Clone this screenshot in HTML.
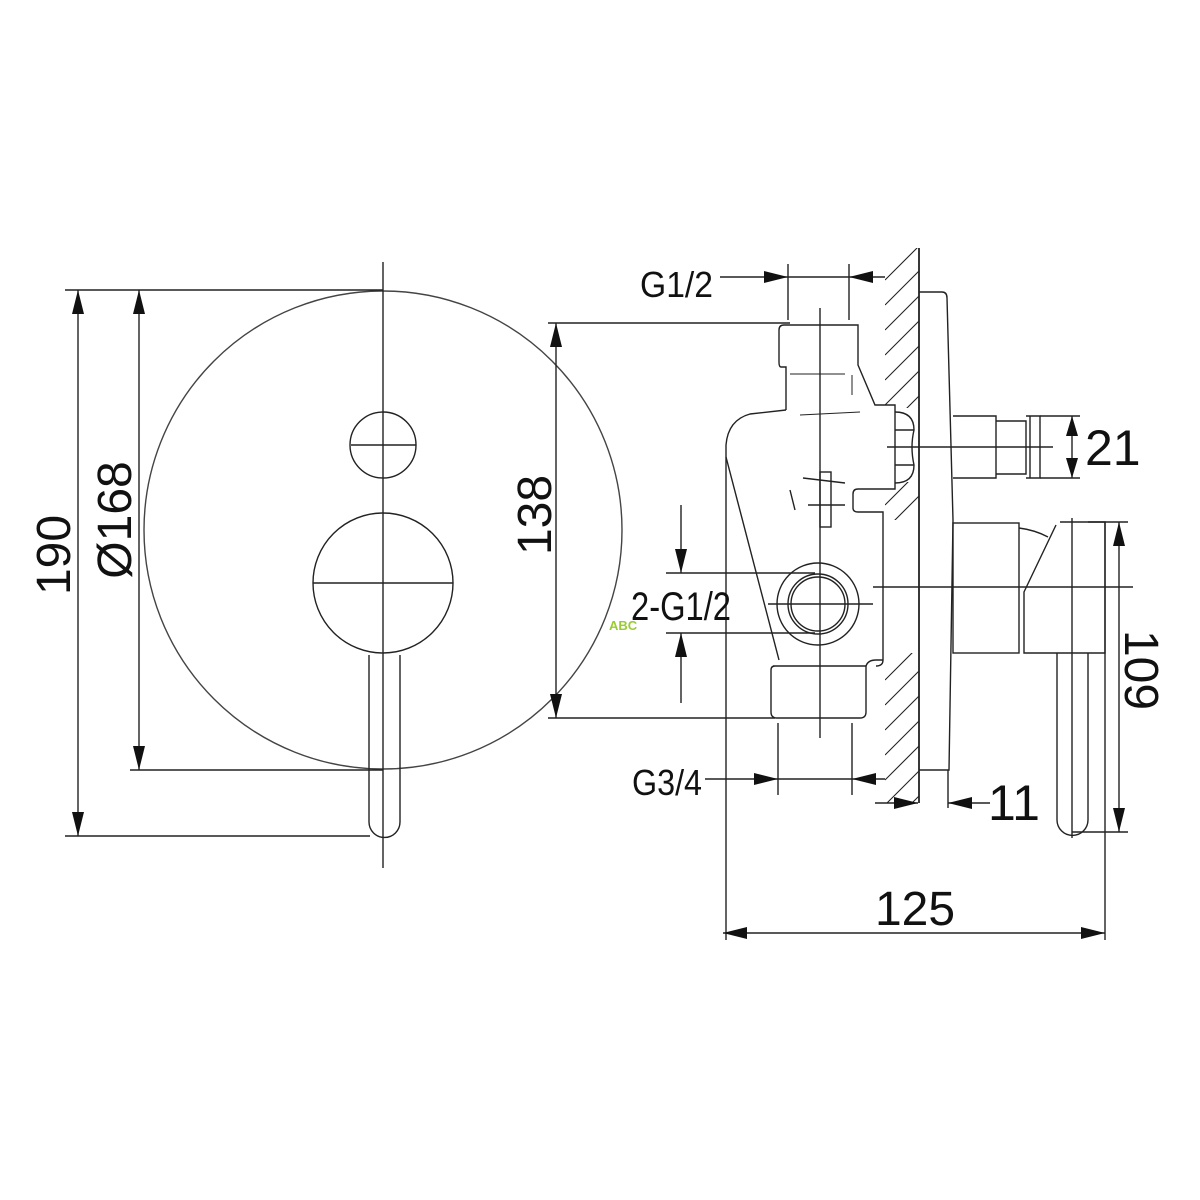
<!DOCTYPE html>
<html><head><meta charset="utf-8"><style>html,body{margin:0;padding:0;background:#fff}svg{display:block}</style></head>
<body>
<svg width="1200" height="1200" viewBox="0 0 1200 1200" xmlns="http://www.w3.org/2000/svg">
<defs>
<clipPath id="h1"><rect x="885" y="248" width="34" height="160"/></clipPath>
<clipPath id="h2"><rect x="885" y="482" width="34" height="38"/></clipPath>
<clipPath id="h3"><rect x="885" y="653" width="34" height="150"/></clipPath>
</defs>
<g fill="none" stroke="#222" stroke-width="1.4">
<!-- left front view -->
<circle cx="383" cy="530" r="239" stroke="#444"/>
<circle cx="383" cy="445" r="33"/>
<circle cx="383" cy="583" r="70"/>
<path d="M369 655 V822 A15.5 15.5 0 0 0 400 822 V655"/>
<line x1="383" y1="262" x2="383" y2="868"/>
<line x1="313" y1="583" x2="453" y2="583"/>
<line x1="351" y1="445" x2="416" y2="445"/>
<line x1="65" y1="290" x2="383" y2="290"/>
<line x1="65" y1="836" x2="370" y2="836"/>
<line x1="130" y1="770" x2="383" y2="770"/>
<line x1="78" y1="290" x2="78" y2="836"/>
<line x1="139" y1="290" x2="139" y2="770"/>
<line x1="548" y1="323" x2="790" y2="323"/>
<line x1="548" y1="718" x2="775" y2="718"/>
<line x1="556" y1="323" x2="556" y2="718"/>
<!-- wall -->
<line x1="919" y1="248" x2="919" y2="803" stroke-width="1.8"/>
<g clip-path="url(#h1)" stroke-width="1.1"><path d="M885 280 L919 246 M885 305 L919 271 M885 330 L919 296 M885 355 L919 321 M885 380 L919 346 M885 405 L919 371 M885 430 L919 396 M885 455 L919 421"/></g>
<g clip-path="url(#h2)" stroke-width="1.1"><path d="M885 505 L919 471 M885 530 L919 496 M885 555 L919 521"/></g>
<g clip-path="url(#h3)" stroke-width="1.1"><path d="M885 680 L919 646 M885 705 L919 671 M885 730 L919 696 M885 755 L919 721 M885 780 L919 746 M885 805 L919 771 M885 830 L919 796"/></g>
<!-- plate -->
<path d="M919 292 H942 Q947 292 947 298 L953 520 L949 770 H919"/>
<!-- stem -->
<path d="M953 416 H996 V478 H953"/>
<path d="M996 421 H1026 V474 H996"/>
<path d="M1026 416 H1040 V478 H1026 M1030 416 V478"/>
<line x1="887" y1="447" x2="1053" y2="447"/>
<!-- handle -->
<rect x="953" y="523" width="66" height="130"/>
<path d="M1019 528 Q1035 530 1048 537"/>
<path d="M1060 522 H1105 V653 H1024 V592 L1056 525"/>
<path d="M1057 653 V820 A15.5 15.5 0 0 0 1088 820 V653"/>
<line x1="1072" y1="518" x2="1072" y2="838"/>
<line x1="1105" y1="522" x2="1105" y2="940"/>
<line x1="873" y1="587" x2="1133" y2="587"/>
<line x1="1040" y1="416" x2="1080" y2="416"/>
<line x1="1040" y1="478" x2="1080" y2="478"/>
<line x1="1072" y1="416" x2="1072" y2="478"/>
<line x1="1088" y1="522" x2="1128" y2="522"/>
<line x1="1072" y1="832" x2="1128" y2="832"/>
<line x1="1119" y1="522" x2="1119" y2="832"/>
<!-- body -->
<path d="M786 410 V367 H781 Q779 367 779 362 V330 Q779 325 784 325 H858 V365 L875 405 H895 V489 H858 Q853 489 853 494 V508 Q853 512 858 512 H883 V660 Q883 666 876 666"/>
<path d="M786 410 L750 414 Q728 420 726 445 V940"/>
<path d="M726 457 L779 660"/>
<path d="M773 666 H866 V712 Q866 718 860 718 H777 Q771 718 771 712 V670 Q771 666 775 666"/>
<path d="M866 666 Q868 660 876 660 H883"/>
<path d="M895 412 Q914 412 914 430 Q910 447 914 465 Q914 483 895 483 M895 430 H914 M895 465 H914"/>
<rect x="820" y="472" width="11" height="55"/>
<path d="M803 478 L845 483 M790 490 L795 510 M808 505 L845 505 M858 490 L858 490"/>
<path d="M800 415 L860 412 M852 375 L852 395 M790 374 L845 374" stroke-width="1"/>
<line x1="820" y1="308" x2="820" y2="738"/>
<circle cx="818" cy="604" r="41"/>
<circle cx="818" cy="604" r="30"/>
<circle cx="818" cy="604" r="27"/>
<line x1="768" y1="604" x2="873" y2="604"/>
<!-- G1/2 -->
<line x1="720" y1="277" x2="885" y2="277"/>
<line x1="788" y1="264" x2="788" y2="320"/>
<line x1="849" y1="264" x2="849" y2="320"/>
<!-- 2-G1/2 -->
<line x1="666" y1="573" x2="815" y2="573"/>
<line x1="666" y1="633" x2="815" y2="633"/>
<line x1="681" y1="505" x2="681" y2="573"/>
<line x1="681" y1="633" x2="681" y2="703"/>
<!-- G3/4 -->
<line x1="705" y1="779" x2="885" y2="779"/>
<line x1="778" y1="723" x2="778" y2="795"/>
<line x1="852" y1="723" x2="852" y2="795"/>
<!-- 11 -->
<line x1="875" y1="803" x2="918" y2="803"/>
<line x1="948" y1="803" x2="990" y2="803"/>
<line x1="948" y1="770" x2="948" y2="808"/>
<!-- 125 -->
<line x1="723" y1="933" x2="1105" y2="933"/>
</g>
<g fill="#111" stroke="none">
<path d="M78 290 l-6 24 h12z M78 836 l-6 -24 h12z"/>
<path d="M139 290 l-6 24 h12z M139 770 l-6 -24 h12z"/>
<path d="M556 323 l-6 24 h12z M556 718 l-6 -24 h12z"/>
<path d="M788 277 l-24 -6 v12z M849 277 l24 -6 v12z"/>
<path d="M681 573 l-6 -24 h12z M681 633 l-6 24 h12z"/>
<path d="M778 779 l-24 -6 v12z M852 779 l24 -6 v12z"/>
<path d="M918 803 l-24 -6 v12z M948 803 l24 -6 v12z"/>
<path d="M1072 416 l-6 20 h12z M1072 478 l-6 -20 h12z"/>
<path d="M1119 522 l-6 24 h12z M1119 832 l-6 -24 h12z"/>
<path d="M723 933 l24 -6 v12z M1105 933 l-24 -6 v12z"/>
</g>
<g font-family="Liberation Sans, sans-serif" fill="#111">
<text x="0" y="0" font-size="48" text-anchor="middle" transform="translate(70 555) rotate(-90)">190</text>
<text x="0" y="0" font-size="48" text-anchor="middle" transform="translate(131 520) rotate(-90)">Ø168</text>
<text x="0" y="0" font-size="48" text-anchor="middle" transform="translate(551 515) rotate(-90)">138</text>
<text x="0" y="0" font-size="48" text-anchor="middle" transform="translate(1125 670) rotate(90)">109</text>
<text x="640" y="297" font-size="36" textLength="73" lengthAdjust="spacingAndGlyphs">G1/2</text>
<text x="631" y="620" font-size="40" textLength="100" lengthAdjust="spacingAndGlyphs">2-G1/2</text>
<text x="632" y="795" font-size="36" textLength="70" lengthAdjust="spacingAndGlyphs">G3/4</text>
<text x="1085" y="465" font-size="50">21</text>
<text x="988" y="820" font-size="50">11</text>
<text x="915" y="925" font-size="48" text-anchor="middle">125</text>
<text x="609" y="630" font-size="13" font-weight="bold" fill="#9c3">ABC</text>
</g>
</svg>
</body></html>
